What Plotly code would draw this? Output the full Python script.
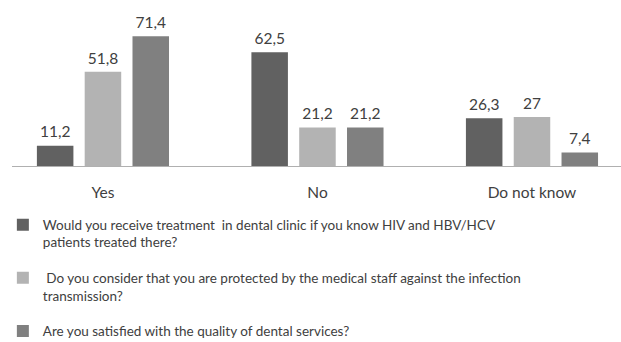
import plotly.graph_objects as go

categories = ["Yes", "No", "Do not know"]
series_names = [
    "Would you receive treatment  in dental clinic if you know HIV and HBV/HCV<br>patients treated there?",
    " Do you consider that you are protected by the medical staff against the infection<br>transmission?",
    "Are you satisfied with the quality of dental services?",
]
receive_treatment = [11.2, 62.5, 26.3]
protected_by_staff = [51.8, 21.2, 27]
satisfied_quality = [71.4, 21.2, 7.4]
series_values = [receive_treatment, protected_by_staff, satisfied_quality]
colors = ["#616161", "#b3b3b3", "#808080"]

FONT = "Lato, Open Sans, sans-serif"
TXT = "#404040"

def fmt(v):
    s = f"{v:g}".replace(".", ",")
    return f"<sub>\u00a0</sub>{s}<sub>\u00a0</sub>"

fig = go.Figure()
for i, (name, vals, col) in enumerate(zip(series_names, series_values, colors)):
    fig.add_trace(go.Bar(
        x=categories, y=vals, name=name, legendgroup=f"g{i}",
        marker=dict(color=col, line=dict(width=0)),
        text=[fmt(v) for v in vals],
        textposition="outside",
        textfont=dict(family=FONT, size=15.5, color=TXT),
        cliponaxis=False,
    ))

fig.update_layout(
    width=621, height=342,
    margin=dict(l=12, r=0, t=10, b=176),
    paper_bgcolor="white", plot_bgcolor="white",
    barmode="group", bargap=0.3315, bargroupgap=0.236,
    font=dict(family=FONT, size=15, color=TXT),
    showlegend=True,
    legend=dict(
        orientation="v", x=-0.015, xanchor="left",
        yref="container", y=0.3877, yanchor="top",
        font=dict(family=FONT, size=13.5, color=TXT),
        valign="top", itemwidth=30, tracegroupgap=15,
        bgcolor="rgba(0,0,0,0)",
    ),
    xaxis=dict(
        range=[-0.424, 2.415], showline=True, linecolor="#b0b0b0", linewidth=1,
        ticks="outside", ticklen=12, tickcolor="rgba(0,0,0,0)",
        tickfont=dict(family=FONT, size=15.5, color=TXT),
        showgrid=False, zeroline=False, fixedrange=True,
    ),
    yaxis=dict(
        range=[0, 85.8], visible=False, showgrid=False, zeroline=False,
    ),
)

fig.write_html("out.html")
